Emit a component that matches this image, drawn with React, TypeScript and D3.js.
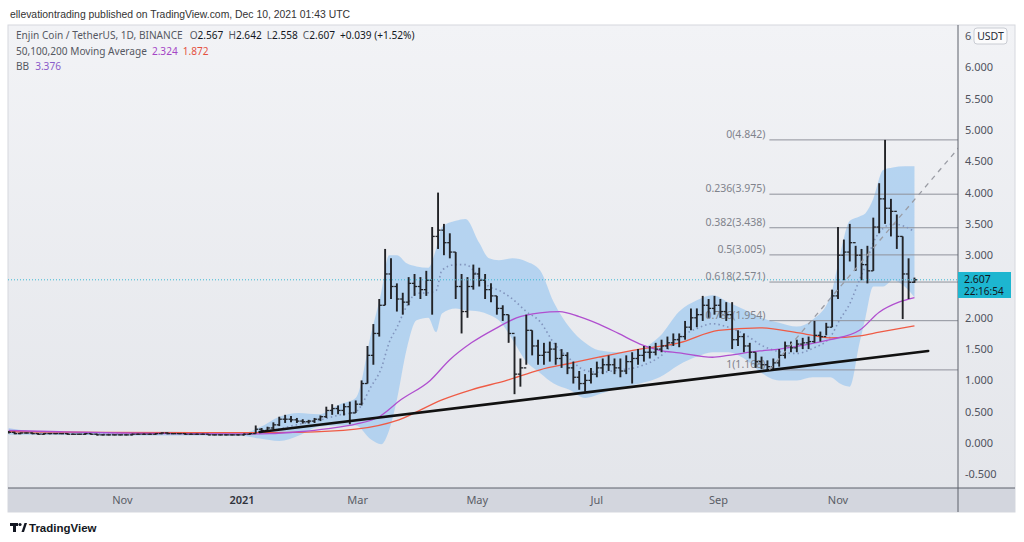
import React, { useEffect, useRef } from "react";
import * as d3 from "d3";

// ENJ/USDT, 1D, Binance - sampled every 3 days starting at barStart
const barStart = "2020-09-04";
const barStepDays = 3;
const barHigh = [
  0.19, 0.18, 0.17, 0.17, 0.17, 0.16, 0.16, 0.16, 0.16, 0.16,
  0.16, 0.15, 0.15, 0.16, 0.15, 0.15, 0.14, 0.14, 0.14, 0.14,
  0.14, 0.15, 0.15, 0.15, 0.15, 0.16, 0.17, 0.17, 0.16, 0.16,
  0.16, 0.15, 0.15, 0.15, 0.14, 0.14, 0.14, 0.14, 0.14, 0.14,
  0.15, 0.16, 0.28, 0.24, 0.26, 0.33, 0.42, 0.45, 0.43, 0.40,
  0.38, 0.37, 0.40, 0.44, 0.58, 0.62, 0.60, 0.63, 0.66, 0.68,
  1.00, 1.55, 1.90, 2.30, 3.10, 2.95, 2.55, 2.40, 2.65, 2.70,
  2.65, 2.75, 3.45, 4.00, 3.50, 3.35, 3.05, 2.70, 2.65, 2.85,
  2.80, 2.70, 2.55, 2.35, 2.20, 2.05, 1.70, 1.35, 2.05, 1.80,
  1.65, 1.60, 1.62, 1.60, 1.50, 1.45, 1.30, 1.15, 1.10, 1.20,
  1.30, 1.35, 1.40, 1.35, 1.35, 1.40, 1.45, 1.50, 1.55, 1.55,
  1.60, 1.65, 1.70, 1.75, 1.75, 1.95, 2.15, 2.15, 2.35, 2.30,
  2.35, 2.30, 2.25, 2.25, 1.80, 1.75, 1.60, 1.45, 1.38, 1.32,
  1.35, 1.50, 1.62, 1.62, 1.65, 1.68, 1.70, 1.95, 1.78, 1.92,
  2.45, 3.45, 3.25, 3.50, 3.15, 3.10, 3.15, 3.60, 4.15, 4.842,
  3.90, 3.65, 3.30, 2.95, 2.642,
];
const barLow = [
  0.15, 0.14, 0.14, 0.15, 0.14, 0.13, 0.13, 0.14, 0.14, 0.14,
  0.13, 0.13, 0.13, 0.13, 0.13, 0.12, 0.12, 0.12, 0.12, 0.12,
  0.12, 0.12, 0.13, 0.13, 0.13, 0.13, 0.14, 0.14, 0.14, 0.14,
  0.13, 0.13, 0.13, 0.13, 0.12, 0.12, 0.12, 0.12, 0.12, 0.12,
  0.12, 0.13, 0.15, 0.17, 0.18, 0.22, 0.27, 0.32, 0.33, 0.32,
  0.31, 0.31, 0.32, 0.35, 0.40, 0.45, 0.46, 0.44, 0.30, 0.48,
  0.60, 0.95, 1.25, 1.70, 2.20, 2.30, 2.10, 2.05, 2.20, 2.35,
  2.30, 2.35, 2.05, 3.10, 3.00, 2.95, 2.30, 1.75, 2.00, 2.45,
  2.50, 2.30, 2.25, 2.05, 1.95, 1.60, 0.78, 0.90, 1.25, 1.40,
  1.25, 1.25, 1.30, 1.25, 1.20, 1.10, 0.95, 0.85, 0.82, 0.95,
  1.05, 1.10, 1.15, 1.10, 1.05, 1.10, 0.95, 1.25, 1.30, 1.35,
  1.40, 1.45, 1.50, 1.55, 1.53, 1.65, 1.80, 1.85, 1.95, 2.00,
  2.05, 2.00, 1.95, 1.50, 1.55, 1.45, 1.35, 1.20, 1.18, 1.17,
  1.17, 1.22, 1.35, 1.45, 1.45, 1.50, 1.50, 1.60, 1.62, 1.72,
  1.85, 2.30, 2.60, 2.90, 2.75, 2.60, 2.55, 2.75, 3.35, 3.50,
  3.30, 3.10, 1.98, 2.30, 2.558,
];
const barClose = [
  0.17, 0.15, 0.16, 0.16, 0.15, 0.14, 0.15, 0.15, 0.15, 0.15,
  0.14, 0.14, 0.14, 0.15, 0.14, 0.13, 0.13, 0.13, 0.13, 0.13,
  0.13, 0.14, 0.14, 0.14, 0.14, 0.15, 0.16, 0.15, 0.15, 0.15,
  0.14, 0.14, 0.14, 0.14, 0.13, 0.13, 0.13, 0.13, 0.13, 0.13,
  0.14, 0.15, 0.22, 0.20, 0.24, 0.29, 0.38, 0.38, 0.37, 0.35,
  0.34, 0.35, 0.38, 0.42, 0.52, 0.55, 0.52, 0.58, 0.48, 0.62,
  0.95, 1.40, 1.75, 2.20, 2.70, 2.50, 2.30, 2.25, 2.55, 2.50,
  2.45, 2.60, 3.30, 3.40, 3.20, 3.05, 2.50, 2.10, 2.50, 2.70,
  2.60, 2.45, 2.35, 2.15, 2.05, 1.75, 1.10, 1.20, 1.80, 1.55,
  1.40, 1.45, 1.50, 1.35, 1.40, 1.20, 1.05, 0.95, 1.00, 1.10,
  1.20, 1.25, 1.25, 1.20, 1.15, 1.30, 1.35, 1.40, 1.45, 1.45,
  1.50, 1.55, 1.60, 1.65, 1.70, 1.85, 2.00, 2.05, 2.20, 2.15,
  2.20, 2.10, 2.05, 1.65, 1.70, 1.55, 1.45, 1.30, 1.25, 1.22,
  1.28, 1.40, 1.55, 1.52, 1.58, 1.60, 1.62, 1.72, 1.70, 1.85,
  2.35, 3.00, 3.05, 3.20, 3.00, 2.85, 2.75, 3.45, 3.90, 3.75,
  3.70, 3.30, 2.70, 2.567, 2.607,
];

// Bollinger bands (20, 2)
const bbDates = [
  "2020-09-04", "2020-09-15", "2020-09-30", "2020-10-21", "2020-11-10", "2020-11-25",
  "2020-12-10", "2020-12-31", "2021-01-10", "2021-01-20", "2021-01-30", "2021-02-09",
  "2021-02-20", "2021-02-28", "2021-03-08", "2021-03-13", "2021-03-17", "2021-03-21",
  "2021-03-26", "2021-03-31", "2021-04-06", "2021-04-10", "2021-04-13", "2021-04-20",
  "2021-04-25", "2021-05-02", "2021-05-07", "2021-05-12", "2021-05-19", "2021-05-26",
  "2021-06-02", "2021-06-09", "2021-06-17", "2021-06-25", "2021-07-02", "2021-07-12",
  "2021-07-23", "2021-08-02", "2021-08-12", "2021-08-21", "2021-08-29", "2021-09-06",
  "2021-09-15", "2021-09-23", "2021-10-02", "2021-10-11", "2021-10-19", "2021-10-28",
  "2021-11-02", "2021-11-07", "2021-11-12", "2021-11-15", "2021-11-19", "2021-11-24",
  "2021-11-29", "2021-12-05", "2021-12-10",
];
const bbUpper = [
  0.24, 0.19, 0.17, 0.16, 0.17, 0.18, 0.17, 0.15, 0.25, 0.42, 0.48, 0.46,
  0.62, 0.72, 1.77, 2.4, 3.0, 3.0, 2.87, 2.82, 2.8, 3.1, 3.45, 3.55,
  3.58, 3.2, 2.95, 2.92, 2.95, 2.9, 2.76, 2.25, 1.85, 1.6, 1.48, 1.45,
  1.5, 1.7, 2.1, 2.28, 2.36, 2.25, 2.12, 2.0, 1.92, 1.86, 1.97, 2.33,
  3.0, 3.55, 3.62, 3.67, 3.9, 4.36, 4.4, 4.42, 4.42,
];
const bbLower = [
  0.13, 0.13, 0.13, 0.125, 0.12, 0.12, 0.12, 0.115, 0.07, 0.03, 0.12, 0.26,
  0.28, 0.28, 0.05, -0.02, 0.2, 0.69, 1.5, 1.96, 2.0, 1.77, 2.07, 2.15,
  2.12, 2.1, 2.05, 1.96, 1.65, 1.3, 1.12, 0.95, 0.85, 0.72, 0.78, 0.88,
  0.95, 1.05, 1.25, 1.38, 1.45, 1.45, 1.33, 1.12, 1.0, 1.0, 1.05, 1.05,
  0.95, 0.9, 1.6, 2.0, 2.5, 2.5, 2.6, 2.5, 2.33,
];

// moving averages (purple 100, red 200)
const maPurpleDates = [
  "2020-09-04", "2020-09-30", "2020-10-31", "2020-11-30", "2020-12-31", "2021-01-15",
  "2021-01-30", "2021-02-14", "2021-02-28", "2021-03-12", "2021-03-23", "2021-04-07",
  "2021-04-17", "2021-04-28", "2021-05-11", "2021-05-21", "2021-06-02", "2021-06-12",
  "2021-06-22", "2021-07-02", "2021-07-12", "2021-07-23", "2021-08-02", "2021-08-12",
  "2021-08-29", "2021-09-06", "2021-09-22", "2021-10-02", "2021-10-16", "2021-10-28",
  "2021-11-12", "2021-11-22", "2021-12-02", "2021-12-10",
];
const maPurple = [
  0.2, 0.18, 0.16, 0.15, 0.145, 0.15, 0.18, 0.23, 0.3, 0.42, 0.69, 1.0,
  1.33, 1.6, 1.84, 2.0, 2.08, 2.1, 2.02, 1.9, 1.75, 1.58, 1.48, 1.44,
  1.37, 1.4, 1.47, 1.5, 1.57, 1.65, 1.8, 2.09, 2.25, 2.324,
];
const maRedDates = [
  "2020-09-04", "2020-10-21", "2020-12-10", "2021-01-10", "2021-01-30", "2021-02-28",
  "2021-03-22", "2021-04-13", "2021-04-28", "2021-05-16", "2021-06-02", "2021-06-17",
  "2021-07-02", "2021-07-23", "2021-08-12", "2021-09-01", "2021-09-22", "2021-10-12",
  "2021-10-28", "2021-11-12", "2021-11-22", "2021-12-10",
];
const maRed = [
  0.18, 0.17, 0.165, 0.165, 0.17, 0.22, 0.37, 0.69, 0.85, 1.0, 1.17, 1.27,
  1.37, 1.5, 1.6, 1.8, 1.84, 1.76, 1.68, 1.71, 1.77, 1.872,
];

// fibonacci retracement
const fibLevels = [0, 0.236, 0.382, 0.5, 0.618, 0.786, 1];
const fibHigh = 4.842;
const fibLow = 1.1678;
const fibFrom = "2021-09-27";
const fibTo = "2022-01-05";

// trend line
const trendDates = ["2021-01-10", "2021-12-17"];
const trendValues = [0.176, 1.47];

const timeTicks = ["2020-11-01", "2021-01-01", "2021-03-01", "2021-05-01", "2021-07-01", "2021-09-01", "2021-11-01"];
const timeTickLabels = ["Nov", "2021", "Mar", "May", "Jul", "Sep", "Nov"];
const priceTicks = [-0.5, 0, 0.5, 1, 1.5, 2, 2.5, 3, 3.5, 4, 4.5, 5, 5.5, 6, 6.5];

const lastPrice = 2.607;
const countdown = "22:16:54";

const FONT = "'Noto Sans', 'DejaVu Sans', sans-serif";

function App() {
  const ref = useRef(null);

  useEffect(() => {
    const svg = d3.select(ref.current);
    svg.selectAll("*").remove();

    const left = 8, right = 958, top = 25, bottom = 488, frameRight = 1015, stripBottom = 512;
    const parse = d3.utcParse("%Y-%m-%d");

    const x = d3.scaleUtc().domain([parse("2021-01-01"), parse("2021-11-01")]).range([242, 838]);
    const y = d3.scaleLinear().domain([0, 6]).range([443, 67.4]);

    const defs = svg.append("defs");
    const grad = defs.append("linearGradient").attr("id", "bg").attr("x1", 0).attr("y1", 0).attr("x2", 0).attr("y2", 1);
    grad.append("stop").attr("offset", "0%").attr("stop-color", "#f2f3f6");
    grad.append("stop").attr("offset", "100%").attr("stop-color", "#e3e5ea");
    defs.append("clipPath").attr("id", "plot")
      .append("rect").attr("x", left).attr("y", top).attr("width", right - left).attr("height", bottom - top);
    // the top tick label sits under the unit badge, only its first digit shows
    defs.append("clipPath").attr("id", "topTick")
      .append("rect").attr("x", right).attr("y", top).attr("width", 14).attr("height", 20);

    // header
    svg.append("text").attr("x", 10).attr("y", 18)
      .style("font-family", "'Liberation Sans', Arial, sans-serif").style("font-size", "10.4px").attr("fill", "#333")
      .text("ellevationtrading published on TradingView.com, Dec 10, 2021 01:43 UTC");

    // chart background
    svg.append("rect").attr("x", left).attr("y", top).attr("width", frameRight - left).attr("height", stripBottom - top)
      .attr("fill", "url(#bg)").attr("stroke", "#d6d8de");
    svg.append("rect").attr("x", left).attr("y", bottom).attr("width", frameRight - left).attr("height", stripBottom - bottom)
      .attr("fill", "#d3d6de");

    const plot = svg.append("g").attr("clip-path", "url(#plot)");

    // Bollinger band
    const bb = bbDates.map((d, i) => ({ date: parse(d), up: bbUpper[i], lo: bbLower[i], mid: (bbUpper[i] + bbLower[i]) / 2 }));
    plot.append("path").datum(bb)
      .attr("d", d3.area().curve(d3.curveMonotoneX).x((d) => x(d.date)).y0((d) => y(d.lo)).y1((d) => y(d.up)))
      .attr("fill", "#a5ccf0").attr("opacity", 0.78);

    // fib levels
    const fx0 = x(parse(fibFrom)), fx1 = x(parse(fibTo));
    const fib = fibLevels.map((l) => ({ level: l, value: fibHigh - l * (fibHigh - fibLow) }));
    plot.selectAll(".fib").data(fib).enter().append("line")
      .attr("x1", fx0).attr("x2", fx1)
      .attr("y1", (d) => y(d.value)).attr("y2", (d) => y(d.value))
      .attr("stroke", "#8f929b").attr("stroke-width", 1);
    plot.selectAll(".fibLabel").data(fib).enter().append("text")
      .attr("x", fx0 - 4).attr("y", (d) => y(d.value) - 2)
      .attr("text-anchor", "end")
      .style("font-family", FONT).style("font-size", "10.5px").attr("fill", "#80838c")
      .text((d) => `${d.level}(${d.value.toFixed(3)})`);

    // BB basis
    plot.append("path").datum(bb)
      .attr("d", d3.line().curve(d3.curveMonotoneX).x((d) => x(d.date)).y((d) => y(d.mid)))
      .attr("fill", "none").attr("stroke", "#8194bd").attr("stroke-width", 1.6).attr("stroke-dasharray", "1.5,3");

    // moving averages
    const maLine = d3.line().curve(d3.curveMonotoneX).x((d) => x(d[0])).y((d) => y(d[1]));
    plot.append("path").datum(maRedDates.map((d, i) => [parse(d), maRed[i]]))
      .attr("d", maLine).attr("fill", "none").attr("stroke", "#ef5b45").attr("stroke-width", 1.3);
    plot.append("path").datum(maPurpleDates.map((d, i) => [parse(d), maPurple[i]]))
      .attr("d", maLine).attr("fill", "none").attr("stroke", "#b04fcf").attr("stroke-width", 1.3);

    // OHLC bars
    const t0 = parse(barStart);
    const bars = barClose.map((c, i) => ({
      date: d3.utcDay.offset(t0, i * barStepDays),
      high: barHigh[i], low: barLow[i], close: c,
      open: i === 0 ? c : barClose[i - 1],
    }));
    const gb = plot.append("g").attr("stroke", "#222327").attr("stroke-width", 1.9);
    gb.selectAll(".hl").data(bars).enter().append("line")
      .attr("x1", (d) => x(d.date)).attr("x2", (d) => x(d.date))
      .attr("y1", (d) => y(d.high)).attr("y2", (d) => Math.max(y(d.low), y(d.high) + 1));
    gb.selectAll(".op").data(bars).enter().append("line")
      .attr("x1", (d) => x(d.date) - 2.6).attr("x2", (d) => x(d.date))
      .attr("y1", (d) => y(d.open)).attr("y2", (d) => y(d.open)).attr("stroke-width", 1.3);
    gb.selectAll(".cl").data(bars).enter().append("line")
      .attr("x1", (d) => x(d.date)).attr("x2", (d) => x(d.date) + 2.6)
      .attr("y1", (d) => y(d.close)).attr("y2", (d) => y(d.close)).attr("stroke-width", 1.3);

    // trend line
    plot.append("line")
      .attr("x1", x(parse(trendDates[0]))).attr("y1", y(trendValues[0]))
      .attr("x2", x(parse(trendDates[1]))).attr("y2", y(trendValues[1]))
      .attr("stroke", "#111").attr("stroke-width", 2.6).attr("stroke-linecap", "round");

    // fib diagonal
    plot.append("line")
      .attr("x1", fx0).attr("y1", y(fibLow)).attr("x2", fx1).attr("y2", y(fibHigh))
      .attr("stroke", "#9a9ca4").attr("stroke-width", 1.3).attr("stroke-dasharray", "5,5");

    // last price line
    plot.append("line").attr("x1", left).attr("x2", right).attr("y1", y(lastPrice)).attr("y2", y(lastPrice))
      .attr("stroke", "#3bb8d3").attr("stroke-width", 1).attr("stroke-dasharray", "1,2");

    // axes lines
    svg.append("line").attr("x1", left).attr("x2", frameRight).attr("y1", bottom).attr("y2", bottom)
      .attr("stroke", "#5d606b");
    svg.append("line").attr("x1", right).attr("x2", right).attr("y1", top).attr("y2", stripBottom)
      .attr("stroke", "#5d606b");

    // price labels (the one under the last-price tag is hidden, as on the chart)
    const visibleTicks = priceTicks.filter((d) => Math.abs(y(d) - y(lastPrice)) > 14);
    svg.selectAll(".pt").data(visibleTicks).enter().append("text")
      .attr("x", 965).attr("y", (d) => y(d) + 4)
      .attr("clip-path", (d) => (y(d) < 45 ? "url(#topTick)" : null))
      .style("font-family", FONT).style("font-size", "11px").attr("fill", "#50535e")
      .text((d) => d.toFixed(3));
    const unit = svg.append("g");
    unit.append("rect").attr("x", 974).attr("y", 28).attr("width", 33).attr("height", 16).attr("rx", 3)
      .attr("fill", "#fbfbfc").attr("stroke", "#c9ccd3");
    unit.append("text").attr("x", 990.5).attr("y", 40).attr("text-anchor", "middle")
      .style("font-family", FONT).style("font-size", "10.5px").attr("fill", "#2a2e39").text("USDT");

    // last price tag
    svg.append("rect").attr("x", right).attr("y", 272).attr("width", 53).attr("height", 26).attr("fill", "#1db6d0");
    svg.append("text").attr("x", 964).attr("y", 283)
      .style("font-family", FONT).style("font-size", "10.5px").attr("fill", "#13171f").text(lastPrice.toFixed(3));
    svg.append("text").attr("x", 964).attr("y", 295)
      .style("font-family", FONT).style("font-size", "10px").attr("fill", "#13171f").text(countdown);

    // time labels
    svg.selectAll(".tt").data(timeTicks).enter().append("text")
      .attr("x", (d) => x(parse(d))).attr("y", 504).attr("text-anchor", "middle")
      .style("font-family", FONT).style("font-size", "11px")
      .attr("fill", (d, i) => (timeTickLabels[i] === "2021" ? "#2f323b" : "#5a5d66"))
      .style("font-weight", (d, i) => (timeTickLabels[i] === "2021" ? 600 : 400))
      .text((d, i) => timeTickLabels[i]);

    // legend
    const lg = svg.append("g").style("font-family", FONT).style("font-size", "10.1px");
    const l1 = lg.append("text").attr("x", 16).attr("y", 39).attr("fill", "#555862");
    l1.append("tspan").text("Enjin Coin / TetherUS, 1D, BINANCE");
    [["O", "2.567"], ["H", "2.642"], ["L", "2.558"], ["C", "2.607"]].forEach(([k, v], i) => {
      l1.append("tspan").attr("dx", i === 0 ? 7 : 5).text(k);
      l1.append("tspan").attr("fill", "#131722").text(v);
    });
    l1.append("tspan").attr("dx", 5).attr("fill", "#131722").text("+0.039 (+1.52%)");
    const l2 = lg.append("text").attr("x", 16).attr("y", 55).attr("fill", "#555862");
    l2.append("tspan").text("50,100,200 Moving Average");
    l2.append("tspan").attr("dx", 5).attr("fill", "#a546c6").text("2.324");
    l2.append("tspan").attr("dx", 5).attr("fill", "#e4513f").text("1.872");
    const l3 = lg.append("text").attr("x", 16).attr("y", 70).attr("fill", "#555862");
    l3.append("tspan").text("BB");
    l3.append("tspan").attr("dx", 6).attr("fill", "#8a5cc9").text("3.376");

    // TradingView logo
    const logo = svg.append("g").attr("fill", "#131722");
    logo.append("rect").attr("x", 10).attr("y", 523).attr("width", 8).attr("height", 3);
    logo.append("rect").attr("x", 13).attr("y", 523).attr("width", 3).attr("height", 9);
    logo.append("circle").attr("cx", 20).attr("cy", 524.5).attr("r", 1.6);
    logo.append("path").attr("d", "M21.5 532 L24.5 523 L27 523 L24 532 Z");
    logo.append("text").attr("x", 29).attr("y", 532)
      .style("font-family", "'Liberation Sans', Arial, sans-serif").style("font-size", "11.5px").style("font-weight", 600)
      .text("TradingView");
  }, []);

  return (
    <svg ref={ref} width={1024} height={542} style={{ position: "absolute", left: 0, top: 0, background: "#fff" }} />
  );
}

export default App;
